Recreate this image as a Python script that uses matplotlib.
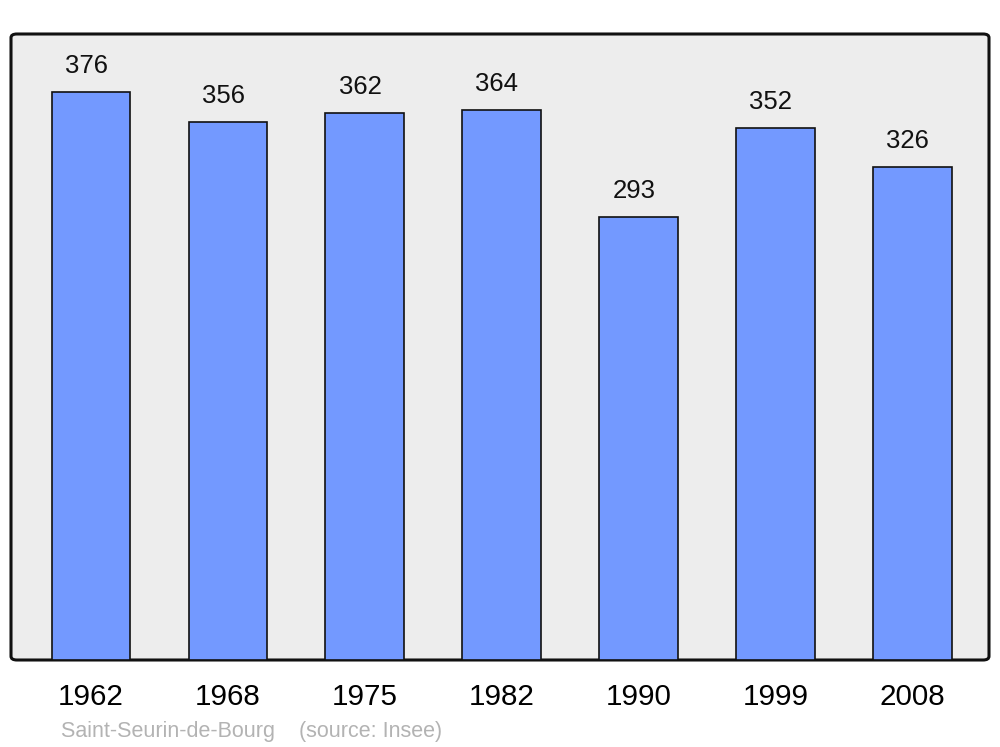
import matplotlib
matplotlib.use("Agg")
import matplotlib.pyplot as plt
from matplotlib.patches import FancyBboxPatch

plt.rcParams['font.family'] = ['Liberation Sans', 'DejaVu Sans']

# population data
years = ['1962', '1968', '1975', '1982', '1990', '1999', '2008']
population = [376, 356, 362, 364, 293, 352, 326]
town = 'Saint-Seurin-de-Bourg'
source = '(source: Insee)'

fig = plt.figure(figsize=(10, 7.47), dpi=100)
# axes box in pixel terms: x 11..989, y 34..660
ax = fig.add_axes([11/1000, 1 - 660/747, 978/1000, 626/747])
ax.set_facecolor('none')

# rounded grey frame behind the bars
frame = FancyBboxPatch((0, 0), 1, 1,
                       boxstyle='round,pad=0,rounding_size=0.006',
                       transform=ax.transAxes, facecolor='#ededed',
                       edgecolor='#111111', linewidth=2.2, zorder=0,
                       clip_on=False)
ax.add_patch(frame)

x = list(range(len(years)))
ax.bar(x, population, width=0.575, color='#7399ff', edgecolor='#111111',
       linewidth=1.2, zorder=2)

for xi, v in zip(x, population):
    ax.text(xi - 0.035, v + 17.2, str(v), ha='center', va='center',
            fontsize=18.5, color='#111111')

ax.set_xlim(-0.584, 6.558)
ax.set_ylim(0, 414.3)
ax.set_xticks([])
ax.set_yticks([])
for s in ax.spines.values():
    s.set_visible(False)

for xi, y in zip(x, years):
    ax.text(xi, -24.5, y, ha='center', va='center', fontsize=21.3,
            color='#000000', clip_on=False)

fig.text(61/1000, 1 - 731.5/747, town + '    ' + source, ha='left', va='center',
         fontsize=15.5, color='#b3b3b3')

fig.savefig('out.png', dpi=100)
